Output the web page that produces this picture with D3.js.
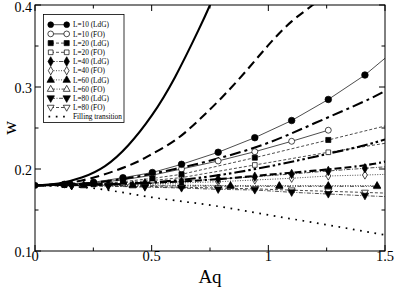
<!DOCTYPE html>
<html><head><meta charset="utf-8">
<script src="https://cdn.jsdelivr.net/npm/d3@7"></script>
<style>body{margin:0;background:#fff}svg{display:block}text{font-family:"Liberation Serif","Times New Roman",serif}</style>
</head><body>
<svg id="c" width="395" height="287"></svg>
<script>
// ---- data ----
const xTicks = [0, 0.5, 1, 1.5];
const xTickLabels = ["0", "0.5", "1", "1.5"];
const yTicks = [0.1, 0.2, 0.3, 0.4];
const yTickLabels = ["0.1", "0.2", "0.3", "0.4"];
const xMinor = [0.25, 0.75, 1.25];
const yMinor = [0.15, 0.25, 0.35];

const x10 = [0, 0.126, 0.251, 0.377, 0.503, 0.628, 0.785, 0.942, 1.1, 1.257, 1.414, 1.571];
const w10LdG = [0.18, 0.1813, 0.1838, 0.1894, 0.1957, 0.2057, 0.2204, 0.2382, 0.2591, 0.2848, 0.3146, 0.352];
const x10FO = [0, 0.126, 0.251, 0.377, 0.503, 0.628, 0.785, 0.942, 1.1, 1.257];
const w10FO = [0.18, 0.1808, 0.1828, 0.1868, 0.1925, 0.2000, 0.2098, 0.2211, 0.2338, 0.2473];
const x20 = [0, 0.126, 0.251, 0.377, 0.503, 0.628, 0.942, 1.257, 1.571];
const w20LdG = [0.18, 0.1805, 0.1818, 0.1845, 0.1885, 0.1935, 0.2138, 0.2354, 0.2574];
const w20FO = [0.18, 0.1803, 0.1812, 0.1832, 0.186, 0.1895, 0.2049, 0.2204, 0.2345];
const x40 = [0, 0.157, 0.314, 0.471, 0.628, 0.785, 0.942, 1.1, 1.257, 1.414, 1.571];
const w40LdG = [0.18, 0.1803, 0.181, 0.1825, 0.1848, 0.1878, 0.1906, 0.1939, 0.1976, 0.2009, 0.204];
const w40FO = [0.18, 0.1801, 0.1805, 0.1815, 0.183, 0.1845, 0.1866, 0.1887, 0.1915, 0.1927, 0.194];
const x60 = [0, 0.209, 0.419, 0.628, 0.838, 1.047, 1.257, 1.466];
const w60LdG = [0.18, 0.1803, 0.1805, 0.1803, 0.1798, 0.1797, 0.1797, 0.1797];
const w60FO = [0.18, 0.1799, 0.1797, 0.1794, 0.179, 0.1789, 0.1789, 0.1788];
const x80 = [0, 0.157, 0.314, 0.471, 0.628, 0.785, 0.942, 1.1, 1.257, 1.414, 1.571];
const w80LdG = [0.18, 0.1798, 0.179, 0.178, 0.1768, 0.1752, 0.1744, 0.1716, 0.1695, 0.1674, 0.1655];
const w80FO = [0.18, 0.1799, 0.1794, 0.1787, 0.1778, 0.1768, 0.1758, 0.1742, 0.1728, 0.1714, 0.17];

const xFill = [0, 0.25, 0.5, 0.75, 1.0, 1.25, 1.5];
const wFill = [0.18, 0.1765, 0.1655, 0.156, 0.144, 0.132, 0.1195];

// theory curves (thick, no markers)
const xT1 = [0, 0.1, 0.2, 0.3, 0.4, 0.5, 0.6, 0.7, 0.75, 0.8];
const wT1 = [0.18, 0.1823, 0.1895, 0.2035, 0.229, 0.265, 0.312, 0.369, 0.4, 0.433];
const xT2 = [0, 0.2, 0.4, 0.5, 0.6, 0.7, 0.8, 0.9, 1.0, 1.1, 1.19, 1.25];
const wT2 = [0.18, 0.186, 0.204, 0.218, 0.235, 0.259, 0.287, 0.318, 0.351, 0.38, 0.4, 0.416];
const xT3 = [0, 0.2, 0.4, 0.6, 0.8, 1.0, 1.2, 1.4, 1.5];
const wT3 = [0.18, 0.182, 0.189, 0.2, 0.214, 0.232, 0.256, 0.281, 0.295];
const wT4 = [0.18, 0.1805, 0.182, 0.186, 0.193, 0.203, 0.215, 0.228, 0.236];
const wT5 = [0.18, 0.181, 0.1825, 0.1845, 0.188, 0.193, 0.198, 0.204, 0.209];

const legendLabels = ["L=10 (LdG)", "L=10 (FO)", "L=20 (LdG)", "L=20 (FO)", "L=40 (LdG)", "L=40 (FO)",
  "L=60 (LdG)", "L=60 (FO)", "L=80 (LdG)", "L=80 (FO)", "Filling transition"];

// ---- drawing ----
const svg = d3.select("#c");
const L = 35, R = 385, T = 5, B = 251;
const x = d3.scaleLinear().domain([0, 1.5]).range([L, R]);
const y = d3.scaleLinear().domain([0.1, 0.4]).range([B, T]);

svg.append("clipPath").attr("id", "clip").append("rect")
  .attr("x", L).attr("y", T).attr("width", R - L).attr("height", B - T);
const plot = svg.append("g").attr("clip-path", "url(#clip)");

const line = d3.line().x(d => x(d[0])).y(d => y(d[1]));
const lineC = d3.line().x(d => x(d[0])).y(d => y(d[1])).curve(d3.curveNatural);
const zip = (a, b) => a.map((v, i) => [v, b[i]]);

// theory thick lines
const thick = [
  [xT1, wT1, null],
  [xT2, wT2, "9,5"],
  [xT3, wT3, "11,4,3,4"],
  [xT3, wT4, "11,3,2.5,3,2.5,3"],
  [xT3, wT5, "7,3,7,3,2,3"]
];
thick.forEach(([xs, ws, da]) => {
  plot.append("path").datum(zip(xs, ws)).attr("d", lineC)
    .attr("fill", "none").attr("stroke", "#000").attr("stroke-width", 2.1)
    .attr("stroke-dasharray", da);
});

// filling transition
plot.append("path").datum(zip(xFill, wFill)).attr("d", lineC)
  .attr("fill", "none").attr("stroke", "#000").attr("stroke-width", 1.7)
  .attr("stroke-dasharray", "1.7,5.6");

const triDown = { draw(ctx, size) { const h = Math.sqrt(size * 4 / Math.sqrt(3)); const s = h / 2;
  ctx.moveTo(-s, -h * 0.33); ctx.lineTo(s, -h * 0.33); ctx.lineTo(0, h * 0.55); ctx.closePath(); } };
const triUp = { draw(ctx, size) { const h = Math.sqrt(size * 4 / Math.sqrt(3)); const s = h / 2;
  ctx.moveTo(-s, h * 0.33); ctx.lineTo(s, h * 0.33); ctx.lineTo(0, -h * 0.55); ctx.closePath(); } };

const series = [
  { xs: x10, ws: w10LdG, sym: d3.symbolCircle, size: 34, fill: "#000", da: null },
  { xs: x10FO, ws: w10FO, sym: d3.symbolCircle, size: 28, fill: "#fff", da: null },
  { xs: x20, ws: w20LdG, sym: d3.symbolSquare, size: 26, fill: "#000", da: "3,2" },
  { xs: x20, ws: w20FO, sym: d3.symbolSquare, size: 22, fill: "#fff", da: "3,2" },
  { xs: x40, ws: w40LdG, sym: d3.symbolDiamond, size: 26, fill: "#000", da: "4,1.5,1,1.5" },
  { xs: x40, ws: w40FO, sym: d3.symbolDiamond, size: 20, fill: "#fff", da: "1,1.5" },
  { xs: x60, ws: w60LdG, sym: triUp, size: 24, fill: "#000", da: "1,1.5" },
  { xs: x60, ws: w60FO, sym: triUp, size: 20, fill: "#fff", da: "4,1.5,1,1.5,1,1.5" },
  { xs: x80, ws: w80LdG, sym: triDown, size: 24, fill: "#000", da: "4,1.5,1,1.5" },
  { xs: x80, ws: w80FO, sym: triDown, size: 20, fill: "#fff", da: "3,2" }
];

// draw series: FO first then LdG so filled markers stay on top at shared points
const order = [1, 0, 3, 2, 5, 4, 7, 6, 9, 8];
order.forEach(i => {
  const s = series[i];
  plot.append("path").datum(zip(s.xs, s.ws)).attr("d", line)
    .attr("fill", "none").attr("stroke", "#000").attr("stroke-width", 0.7)
    .attr("stroke-dasharray", s.da);
});
order.forEach(i => {
  const s = series[i];
  const pts = zip(s.xs, s.ws).filter(d => d[0] > 0);
  plot.selectAll(null).data(pts).enter().append("path")
    .attr("transform", d => `translate(${x(d[0])},${y(d[1])})`)
    .attr("d", d3.symbol().type(s.sym).size(s.size))
    .attr("fill", s.fill).attr("stroke", "#000").attr("stroke-width", 0.7);
});
// starting point
plot.append("circle").attr("cx", x(0)).attr("cy", y(0.18)).attr("r", 3.3).attr("fill", "#000");

// axes frame and ticks
const ax = svg.append("g");
ax.append("rect").attr("x", L).attr("y", T).attr("width", R - L).attr("height", B - T)
  .attr("fill", "none").attr("stroke", "#000").attr("stroke-width", 1);

function ticks(vals, len) {
  vals.forEach(v => {
    ax.append("line").attr("x1", x(v)).attr("x2", x(v)).attr("y1", B).attr("y2", B - len).attr("stroke", "#000");
    ax.append("line").attr("x1", x(v)).attr("x2", x(v)).attr("y1", T).attr("y2", T + len).attr("stroke", "#000");
  });
}
function yticks(vals, len) {
  vals.forEach(v => {
    ax.append("line").attr("y1", y(v)).attr("y2", y(v)).attr("x1", L).attr("x2", L + len).attr("stroke", "#000");
    ax.append("line").attr("y1", y(v)).attr("y2", y(v)).attr("x1", R).attr("x2", R - len).attr("stroke", "#000");
  });
}
ticks(xTicks, 6); ticks(xMinor, 3.5); yticks(yTicks, 6); yticks(yMinor, 3.5);

ax.selectAll(null).data(xTicks).enter().append("text")
  .attr("x", d => x(d)).attr("y", 261).attr("text-anchor", "middle")
  .attr("font-size", 14.5).text((d, i) => xTickLabels[i]);
ax.selectAll(null).data(yTicks).enter().append("text")
  .attr("x", 32).attr("y", d => Math.max(y(d) + 5.5, 12)).attr("text-anchor", "end")
  .attr("font-size", 14).text((d, i) => yTickLabels[i]);

svg.append("text").attr("x", 210).attr("y", 283).attr("text-anchor", "middle")
  .attr("font-size", 19).text("Aq");
svg.append("text").attr("transform", "translate(16,128) rotate(-90)").attr("text-anchor", "middle")
  .attr("font-size", 19).text("w");

// legend
const lg = svg.append("g");
lg.append("rect").attr("x", 43.5).attr("y", 14.5).attr("width", 80.5).attr("height", 108)
  .attr("fill", "#fff").attr("stroke", "#000").attr("stroke-width", 0.8);
legendLabels.forEach((lab, i) => {
  const yy = 24.7 + i * 9.2;
  if (i < series.length) {
    const s = series[i];
    lg.append("line").attr("x1", 51).attr("x2", 66.5).attr("y1", yy).attr("y2", yy)
      .attr("stroke", "#000").attr("stroke-width", 0.7).attr("stroke-dasharray", s.da);
    [50.7, 66.7].forEach(cx => lg.append("path").attr("transform", `translate(${cx},${yy})`)
      .attr("d", d3.symbol().type(s.sym).size(Math.min(s.size, 26)))
      .attr("fill", s.fill).attr("stroke", "#000").attr("stroke-width", 0.7));
  } else {
    lg.append("line").attr("x1", 48.5).attr("x2", 68).attr("y1", yy).attr("y2", yy)
      .attr("stroke", "#000").attr("stroke-width", 1.7).attr("stroke-dasharray", "1.7,5.6");
  }
  lg.append("text").attr("x", 73).attr("y", yy + 2.6).attr("font-size", 7.3).text(lab);
});
</script>
</body></html>
